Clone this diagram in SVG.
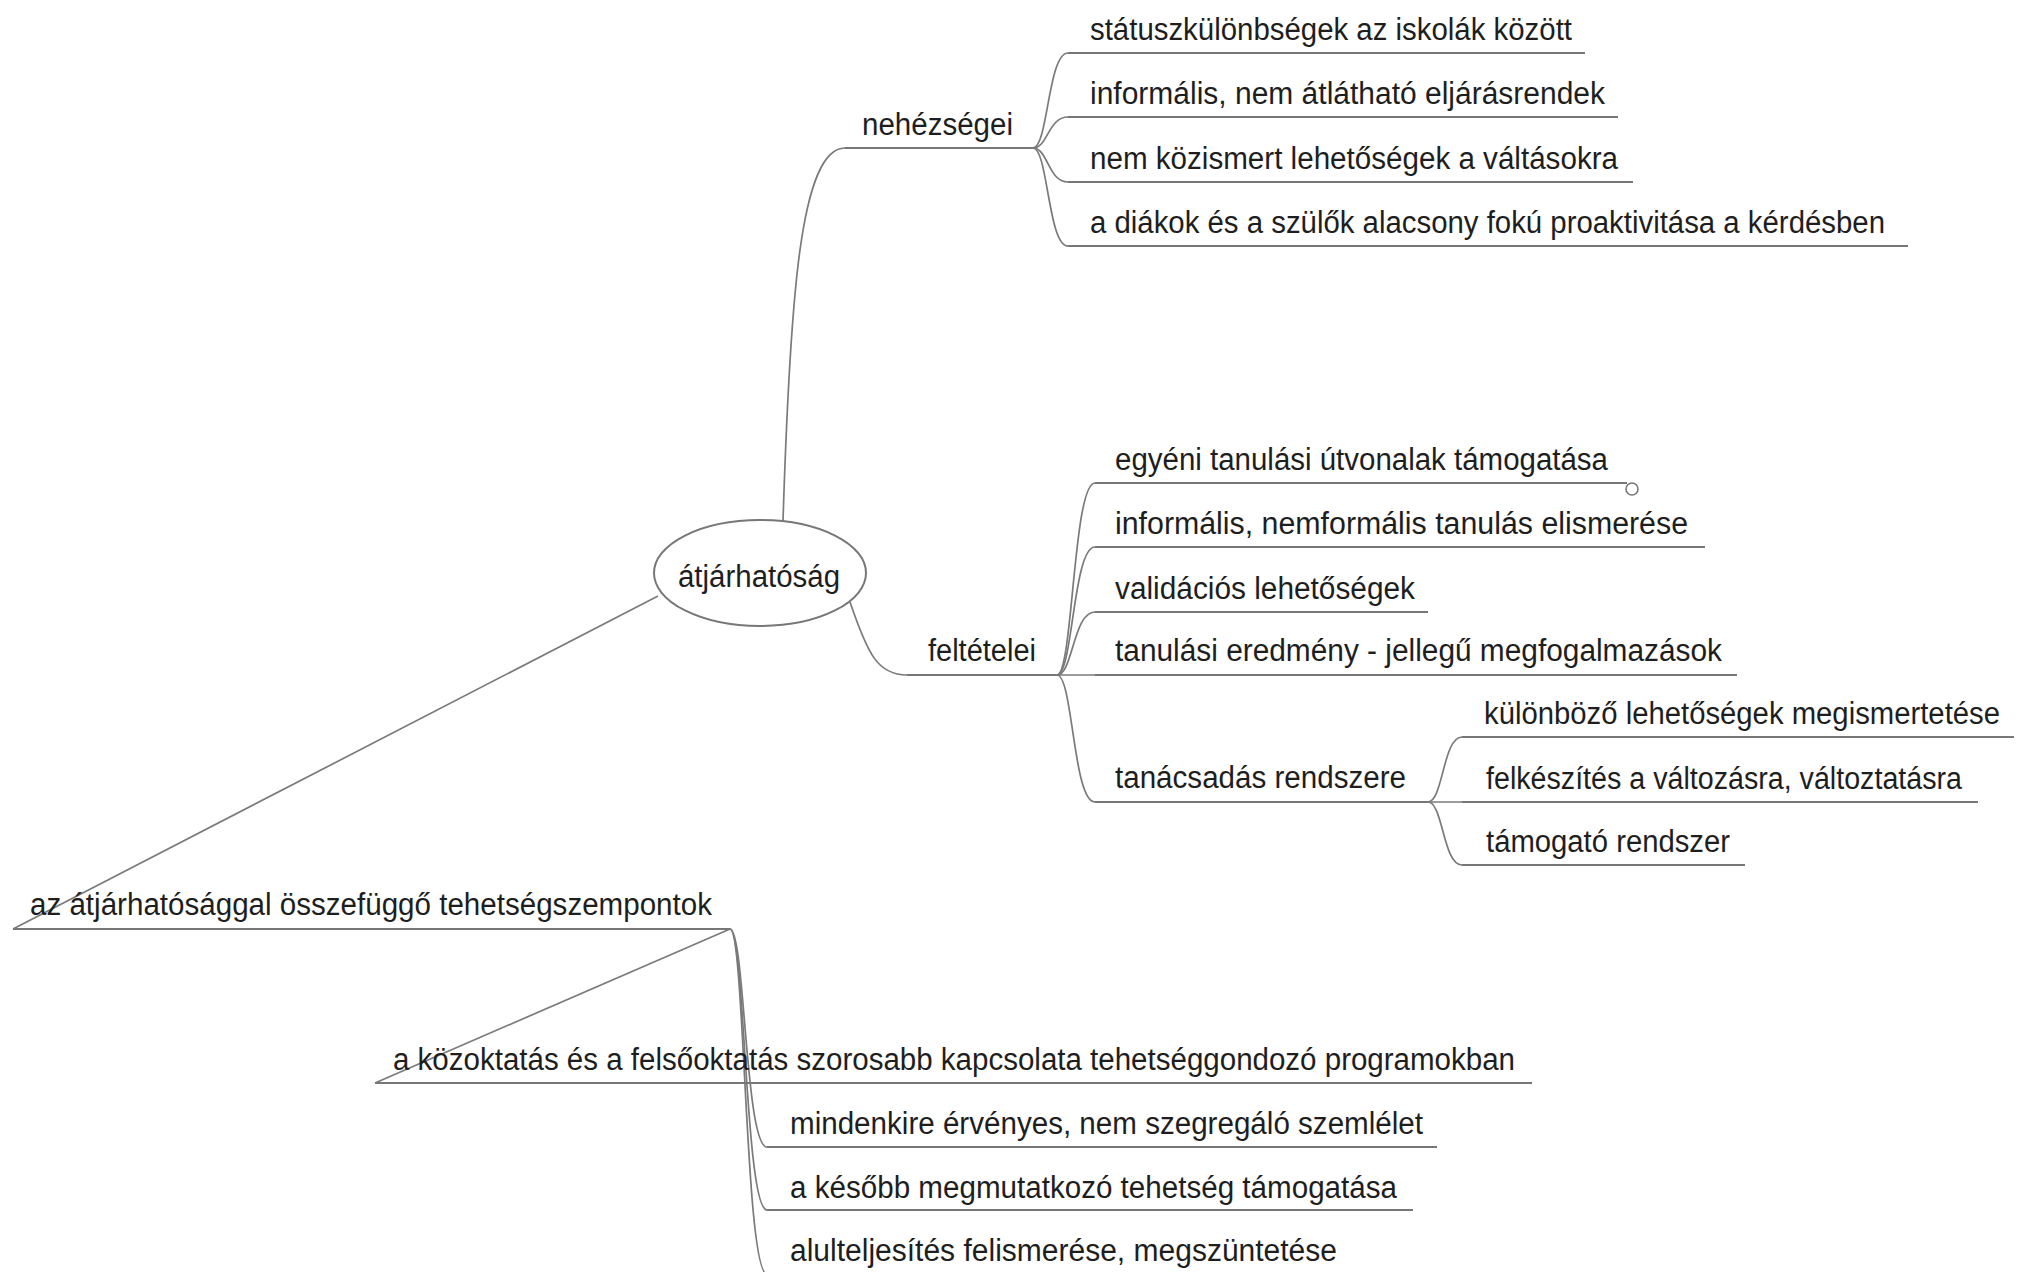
<svg xmlns="http://www.w3.org/2000/svg" width="2019" height="1272" viewBox="0 0 2019 1272">
<style>
text{font-family:"Liberation Sans",Arial,sans-serif;font-size:31px;fill:#1e1e1e}
.u{stroke:#777;stroke-width:2;fill:none}
.c{stroke:#7a7a7a;stroke-width:1.7;fill:none}
</style>
<rect width="2019" height="1272" fill="#fff"/>
<g id="connectors">
<path class="c" d="M783,521 C790,300 800,148 845,148"/>
<path class="c" d="M850,602 C868,655 878,675 907,675"/>
<path class="c" d="M658,596 L13,929"/>
<path class="c" d="M1033,148 C1048,148 1048,53 1068,53"/>
<path class="c" d="M1033,148 C1048,148 1048,117 1068,117"/>
<path class="c" d="M1033,148 C1048,148 1048,182 1068,182"/>
<path class="c" d="M1033,148 C1048,148 1048,246 1068,246"/>
<path class="c" d="M1057,675 C1073,675 1073,483 1095,483"/>
<path class="c" d="M1057,675 C1073,675 1073,547 1095,547"/>
<path class="c" d="M1057,675 C1073,675 1073,612 1095,612"/>
<path class="c" d="M1057,675 L1095,675"/>
<path class="c" d="M1057,675 C1073,675 1073,802 1095,802"/>
<path class="c" d="M1428,802 C1443,802 1443,737 1462,737"/>
<path class="c" d="M1428,802 L1462,802"/>
<path class="c" d="M1428,802 C1443,802 1443,865 1462,865"/>
<path class="c" d="M730,929 L375,1083"/>
<path class="c" d="M730,929 C745,929 745,1147 767,1147"/>
<path class="c" d="M730,929 C745,929 745,1210 767,1210"/>
<path class="c" d="M730,929 C745,929 745,1274 767,1274"/>
</g>
<g id="root">
<ellipse cx="760" cy="573" rx="106" ry="53" fill="#fff" stroke="#777" stroke-width="2"/>
<text x="678" y="587" textLength="162" lengthAdjust="spacingAndGlyphs">átjárhatóság</text>
</g>
<g id="nehezsegei">
<text x="862" y="135" textLength="151" lengthAdjust="spacingAndGlyphs">nehézségei</text>
<path class="u" d="M845,148 H1033"/>
</g>
<g id="n1"><text x="1090" y="40" textLength="482" lengthAdjust="spacingAndGlyphs">státuszkülönbségek az iskolák között</text><path class="u" d="M1068,53 H1585"/></g>
<g id="n2"><text x="1090" y="104" textLength="515" lengthAdjust="spacingAndGlyphs">informális, nem átlátható eljárásrendek</text><path class="u" d="M1068,117 H1618"/></g>
<g id="n3"><text x="1090" y="169" textLength="528" lengthAdjust="spacingAndGlyphs">nem közismert lehetőségek a váltásokra</text><path class="u" d="M1068,182 H1633"/></g>
<g id="n4"><text x="1090" y="233" textLength="795" lengthAdjust="spacingAndGlyphs">a diákok és a szülők alacsony fokú proaktivitása a kérdésben</text><path class="u" d="M1068,246 H1908"/></g>
<g id="feltetelei">
<text x="928" y="661" textLength="108" lengthAdjust="spacingAndGlyphs">feltételei</text>
<path class="u" d="M907,675 H1057"/>
</g>
<g id="f1"><text x="1115" y="470" textLength="493" lengthAdjust="spacingAndGlyphs">egyéni tanulási útvonalak támogatása</text><path class="u" d="M1095,483 H1627"/><circle cx="1632" cy="489" r="6" fill="#fff" stroke="#777" stroke-width="1.6"/></g>
<g id="f2"><text x="1115" y="534" textLength="573" lengthAdjust="spacingAndGlyphs">informális, nemformális tanulás elismerése</text><path class="u" d="M1095,547 H1705"/></g>
<g id="f3"><text x="1115" y="599" textLength="300" lengthAdjust="spacingAndGlyphs">validációs lehetőségek</text><path class="u" d="M1095,612 H1428"/></g>
<g id="f4"><text x="1115" y="661" textLength="607" lengthAdjust="spacingAndGlyphs">tanulási eredmény - jellegű megfogalmazások</text><path class="u" d="M1095,675 H1737"/></g>
<g id="f5"><text x="1115" y="788" textLength="291" lengthAdjust="spacingAndGlyphs">tanácsadás rendszere</text><path class="u" d="M1095,802 H1428"/></g>
<g id="t1"><text x="1484" y="724" font-size="29" textLength="516" lengthAdjust="spacingAndGlyphs">különböző lehetőségek megismertetése</text><path class="u" d="M1462,737 H2014"/></g>
<g id="t2"><text x="1486" y="789" textLength="476" lengthAdjust="spacingAndGlyphs">felkészítés a változásra, változtatásra</text><path class="u" d="M1462,802 H1978"/></g>
<g id="t3"><text x="1486" y="852" textLength="244" lengthAdjust="spacingAndGlyphs">támogató rendszer</text><path class="u" d="M1462,865 H1745"/></g>
<g id="tehetseg">
<text x="30" y="915" textLength="682" lengthAdjust="spacingAndGlyphs">az átjárhatósággal összefüggő tehetségszempontok</text>
<path class="u" d="M13,929 H730"/>
</g>
<g id="b1"><text x="393" y="1070" textLength="1122" lengthAdjust="spacingAndGlyphs">a közoktatás és a felsőoktatás szorosabb kapcsolata tehetséggondozó programokban</text><path class="u" d="M375,1083 H1532"/></g>
<g id="b2"><text x="790" y="1134" textLength="633" lengthAdjust="spacingAndGlyphs">mindenkire érvényes, nem szegregáló szemlélet</text><path class="u" d="M767,1147 H1437"/></g>
<g id="b3"><text x="790" y="1198" textLength="607" lengthAdjust="spacingAndGlyphs">a később megmutatkozó tehetség támogatása</text><path class="u" d="M767,1210 H1413"/></g>
<g id="b4"><text x="790" y="1261" textLength="547" lengthAdjust="spacingAndGlyphs">alulteljesítés felismerése, megszüntetése</text><path class="u" d="M767,1274 H1352"/></g>
</svg>
